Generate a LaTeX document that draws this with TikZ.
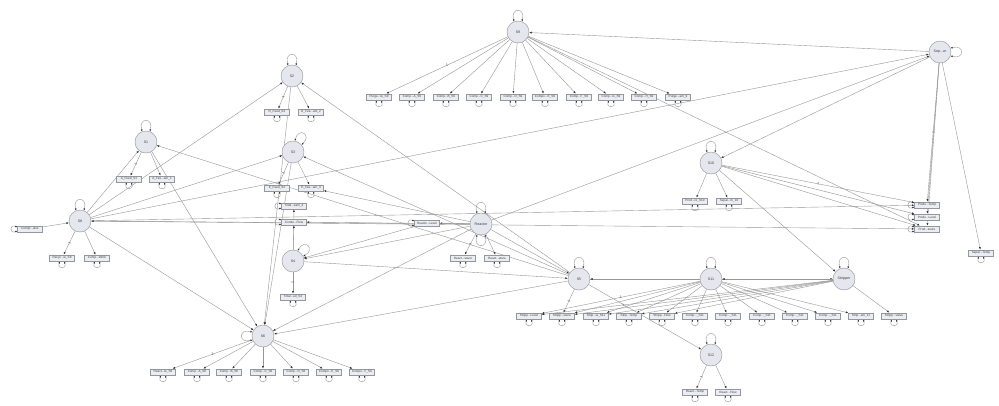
\documentclass[tikz,border=0pt]{standalone}
\usepackage{fontspec}
\setmainfont{Liberation Sans}
\usetikzlibrary{arrows.meta,calc}
\definecolor{latf}{RGB}{230,231,238}
\definecolor{manf}{RGB}{236,237,242}
\definecolor{bord}{RGB}{150,150,158}
\definecolor{edg}{RGB}{150,150,150}
\definecolor{arr}{RGB}{50,50,50}
\definecolor{txt}{RGB}{60,60,60}
\pgfdeclarelayer{bg}
\pgfsetlayers{bg,main}
\newcommand\latloop[2]{%
  \pgfmathsetmacro\myA{#2+20}\pgfmathsetmacro\myB{#2-20}%
  \pgfmathsetmacro\myC{#2+18}\pgfmathsetmacro\myD{#2-18}%
  \draw[lp] ($(#1)+(\myA:11.2pt)$) .. controls ($(#1)+(\myC:26pt)$) and ($(#1)+(\myD:26pt)$) .. ($(#1)+(\myB:11.2pt)$);}
\newcommand\myloopB[1]{\draw[lp] ($(#1.south)+(-2,0)$) .. controls ($(#1.south)+(-5.5,8)$) and ($(#1.south)+(5.5,8)$) .. ($(#1.south)+(2,0)$);}
\newcommand\myloopL[1]{\draw[lp] ($(#1.west)+(0,-1.8)$) .. controls ($(#1.west)+(-8,-5.5)$) and ($(#1.west)+(-8,5.5)$) .. ($(#1.west)+(0,1.8)$);}
\begin{document}
\begin{tikzpicture}[x=1pt,y=-1pt,
  lat/.style={circle,draw=bord,fill=latf,line width=0.45pt,minimum size=22pt,inner sep=0pt,font=\fontsize{3.6}{4}\selectfont,text=txt},
  man/.style={rectangle,draw=bord,fill=manf,line width=0.4pt,minimum width=25pt,minimum height=6.5pt,inner sep=0pt,font=\fontsize{3.1}{3.5}\selectfont,text=txt},
  pth/.style={draw=edg,line width=0.4pt,-{Latex[length=2.5pt,width=2pt,color=arr]}},
  lp/.style={draw=edg,line width=0.4pt,{Latex[length=2.1pt,width=1.8pt,color=arr]}-{Latex[length=2.1pt,width=1.8pt,color=arr]}},
  lbl/.style={font=\fontsize{3.4}{3.6}\selectfont,text=txt,inner sep=0.3pt,sloped}]
\useasboundingbox (0,0) rectangle (999,405);
% latent variables
\node[lat] (S9) at (518,32) {S9};
\node[lat] (Sep) at (940,52) {Sep...or};
\node[lat] (S2) at (292,76) {S2};
\node[lat] (S1) at (146,142) {S1};
\node[lat] (S3) at (293,152) {S3};
\node[lat] (S10) at (711,163) {S10};
\node[lat] (S8) at (80,221) {S8};
\node[lat] (R) at (481,224) {Reactor};
\node[lat] (S4) at (293,261) {S4};
\node[lat] (S5) at (579,279) {S5};
\node[lat] (S11) at (711,279) {S11};
\node[lat] (St) at (844,279) {Stripper};
\node[lat] (S6) at (263,336) {S6};
\node[lat] (S12) at (711,355) {S12};
% manifest variables
\node[man] (a9a) at (379,97) {Purge...te\_S9};
\node[man] (a9b) at (412,97) {Comp...A\_S9};
\node[man] (a9c) at (446,97) {Comp...B\_S9};
\node[man] (a9d) at (479,97) {Comp...C\_S9};
\node[man] (a9e) at (513,97) {Comp...D\_S9};
\node[man] (a9f) at (545,97) {Compo...E\_S9};
\node[man] (a9g) at (579,97) {Comp...F\_S9};
\node[man] (a9h) at (611,97) {Comp...G\_S9};
\node[man] (a9i) at (644,97) {Comp...H\_S9};
\node[man] (a9j) at (678,97) {Purge...am\_9};
\node[man] (d2a) at (277,112) {D\_Feed\_S2};
\node[man] (d2b) at (311,112) {D\_Fee...am\_2};
\node[man] (a1a) at (129,179) {A\_Feed\_S1};
\node[man] (a1b) at (162,179) {A\_Fee...am\_1};
\node[man] (e3a) at (277,188) {E\_Feed\_S3};
\node[man] (e3b) at (311,188) {E\_Fee...am\_3};
\node[man] (t4) at (294,206) {Total...eam\_4};
\node[man] (cf) at (294,222) {Conde...Flow};
\node[man] (rl) at (427,223) {Reacto...Level};
\node[man] (t4b) at (293,297) {Total...ed\_S4};
\node[man] (r8) at (62,258) {Recyc...w\_S8};
\node[man] (cw) at (97,258) {Comp...Work};
\node[man] (cv) at (30,229) {Compr...alve};
\node[man] (rp) at (463,258) {React...ssure};
\node[man] (rt) at (497,258) {React...ature};
\node[man] (s6a) at (163,372) {React...te\_S6};
\node[man] (s6b) at (197,372) {Comp...A\_S6};
\node[man] (s6c) at (229,372) {Comp...B\_S6};
\node[man] (s6d) at (263,372) {Comp...C\_S6};
\node[man] (s6e) at (296,372) {Comp...D\_S6};
\node[man] (s6f) at (329,372) {Compo...E\_S6};
\node[man] (s6g) at (362,372) {Compo...F\_S6};
\node[man] (p10) at (695,201) {Prod...re\_S10};
\node[man] (s10) at (729,201) {Separ...m\_10};
\node[man] (pt) at (927,205) {Produ...Temp};
\node[man] (pl) at (927,217) {Produ...Level};
\node[man] (ps) at (927,229) {Prod...ssure};
\node[man] (sT) at (981,253) {Separ...Temp};
\node[man] (k1) at (529,316) {Stripp...Level};
\node[man] (k2) at (562,316) {Stripp...ssure};
\node[man] (k3) at (596,316) {Strip...w\_S11};
\node[man] (k4) at (629,316) {Strip...Temp};
\node[man] (k5) at (662,316) {Stripp...Flow};
\node[man] (k6) at (695,316) {Comp...\_S11};
\node[man] (k7) at (728,316) {Comp...\_S11};
\node[man] (k8) at (762,316) {Comp...\_S11};
\node[man] (k9) at (795,316) {Comp...\_S11};
\node[man] (k10) at (828,316) {Comp...\_S11};
\node[man] (k11) at (861,316) {Strip...am\_11};
\node[man] (k12) at (894,316) {Stripp...Valve};
\node[man] (m1) at (695,392) {React...Temp};
\node[man] (m2) at (728,392) {React...Flow};
\begin{pgfonlayer}{bg}
\fill[white] (0,0) rectangle (999,405);
% S9
\draw[pth] (S9) -- node[lbl]{1} (a9a);
\foreach \t in {a9b,a9c,a9d,a9e,a9f,a9g,a9h,a9i,a9j} \draw[pth] (S9) -- (\t);
\draw[pth] (S9) -- (ps);
% Separator
\draw[pth] (Sep) -- (S9);
\draw[pth] (S8) -- (Sep);
\draw[pth] (R) -- (Sep);
\draw[pth] (Sep) -- (S10);
\draw[pth] (Sep) -- node[lbl,pos=0.5]{1} (pt);
\draw[pth] (Sep) -- (pl);
\draw[pth] (Sep) -- (ps);
\draw[pth] (Sep) -- (sT);
% S10
\draw[pth] (S10) -- (p10);
\draw[pth] (S10) -- (s10);
\draw[pth] (S10) -- node[lbl]{1} (pt);
\draw[pth] (S10) -- (pl);
\draw[pth] (S10) -- (ps);
\draw[pth] (S10) -- (St);
% S1 S2 S3
\draw[pth] (S2) -- node[lbl]{1} (d2a);
\draw[pth] (S2) -- (d2b);
\draw[pth] (S1) -- node[lbl]{1} (a1a);
\draw[pth] (S1) -- (a1b);
\draw[pth] (S3) -- node[lbl]{1} (e3a);
\draw[pth] (S3) -- (e3b);
% S8
\draw[pth] (S8) -- (S1);
\draw[pth] (S8) -- (S2);
\draw[pth] (S8) -- (S3);
\draw[pth] (S8) -- (S6);
\draw[pth] (S8) -- (pt);
\draw[pth] (S8) -- (ps);
\draw[pth] (R) -- (S8);
\draw[pth] (cv) -- (S8);
\draw[pth] (S8) -- node[lbl]{1} (r8);
\draw[pth] (S8) -- (cw);
% into S6
\draw[pth] (S1) -- (S6);
\draw[pth] (S2) -- (S6);
\draw[pth] (S3) -- (S6);
\draw[pth] (R) -- (S6);
\draw[pth] (S5) -- (S6);
\draw[pth] (S6) -- node[lbl]{1} (s6a);
\foreach \t in {s6b,s6c,s6d,s6e,s6f,s6g} \draw[pth] (S6) -- (\t);
% S5 to upstream
\draw[pth] (S5) -- (S1);
\draw[pth] (S5) -- (S2);
\draw[pth] (S5) -- (S3);
% S4
\draw[pth] (S4) -- (t4);
\draw[pth] (S4) -- (cf);
\draw[pth] (S4) -- node[lbl]{1} (t4b);
\draw[pth] (R) -- (S4);
\draw[pth] (rl) -- (S4);
\draw[pth] (S4) -- (S5);
% Reactor
\draw[pth] (R) -- (rl);
\draw[pth] (R) -- node[lbl]{1} (rp);
\draw[pth] (R) -- (rt);
\draw[pth] (R) -- (cf);
\draw[pth] (R) -- (e3b);
\draw[pth] (R) -- (S5);
% S5 S11 Stripper
\draw[pth] (S5) -- node[lbl]{1} (k2);
\draw[pth] (S5) -- (S12);
\draw[pth] (S5) -- (St);
\draw[pth] (S11) -- (S5);
\draw[pth] (St) -- (S11);
\draw[pth] (S11) -- node[lbl]{1} (k1);
\foreach \t in {k2,k3,k4,k5,k6,k7,k8,k9,k10,k11} \draw[pth] (S11) -- (\t);
\draw[pth] (St) -- node[lbl,pos=0.72]{1} (k1);
\foreach \t in {k2,k3,k4,k5,k12} \draw[pth] (St) -- (\t);
% S12
\draw[pth] (S12) -- node[lbl]{1} (m1);
\draw[pth] (S12) -- (m2);
% latent self loops
\foreach \n in {S9,S2,S1,S10,S8,R,S5,S11,St,S12} {\latloop{\n}{90}}
\latloop{R}{270}
\latloop{S3}{60}
\latloop{S4}{45}
\latloop{Sep}{0}
\latloop{S6}{180}
% manifest residual loops
\foreach \n in {a9a,a9b,a9c,a9d,a9e,a9f,a9g,a9h,a9i,a9j,d2a,d2b,a1a,a1b,e3a,e3b,t4b,r8,cw,rp,rt,s6a,s6b,s6c,s6d,s6e,s6f,s6g,p10,s10,sT,k1,k2,k3,k4,k5,k6,k7,k8,k9,k10,k11,k12,m1,m2} {\myloopB{\n}}
\foreach \n in {cv,t4,cf,rl,pt,pl,ps} {\myloopL{\n}}
\end{pgfonlayer}
\end{tikzpicture}
\end{document}
